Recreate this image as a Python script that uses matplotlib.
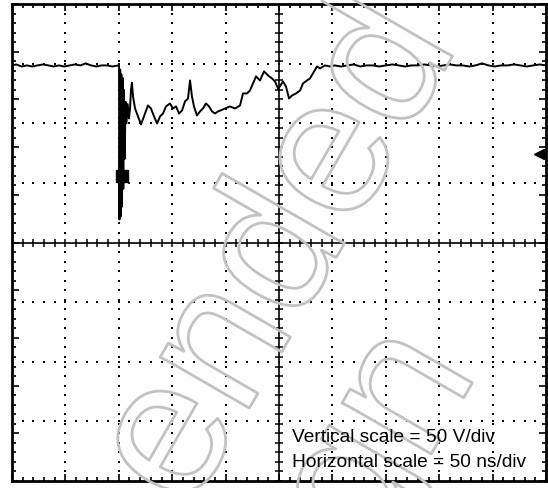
import numpy as np
import matplotlib
matplotlib.use('Agg')
import matplotlib.pyplot as plt
import matplotlib.patheffects as pe

# scope trace, time in ns, voltage in V (0 V at the centre line)
t_pre = [0, 4, 9, 14, 19, 24, 29, 34, 39, 44, 49, 54, 59, 64, 69, 74, 79, 84, 89, 94, 99.5]
v_pre = [148.5, 149.3, 147.6, 148.5, 147.6, 148.5, 149.3, 148.5, 147.6, 148.5, 147.6,
         148.5, 149.3, 148.5, 150.2, 148.5, 147.6, 148.5, 148.5, 147.6, 148.5]

t_ring = [100.2, 100.6, 101.3, 101.8, 102.4, 103.0, 103.6, 104.2, 104.8, 105.5, 106.3,
          107.2, 108.3, 109.5, 110.5, 111.4, 112.3, 113.3, 115.2, 118.0, 120.8, 124.5,
          127.3, 130.1, 133.0, 135.8, 138.6, 141.4, 144.2, 147.9, 150.7, 153.6, 156.4,
          159.2, 162.0, 164.8, 166.7, 168.5, 170.4, 173.2, 176.0, 178.8, 181.6, 184.5,
          187.3, 190.1, 192.9, 196.0, 199.4, 204.1, 208.8, 213.5, 216.3, 220.0, 222.8,
          225.6, 228.5, 232.2, 236.0, 239.7, 243.4, 246.2, 249.1, 250.9, 253.7, 256.5,
          259.4, 262.2, 265.9, 269.7, 272.5, 276.2, 279.0, 281.8, 285.6, 288.4, 293.1,
          297.7]
v_ring = [148.5, 19.3, 145.0, 22.0, 141.0, 30.0, 138.0, 45.0, 128.0, 70.0, 118.0,
          100.0, 116.0, 104.0, 112.0, 128.0, 134.0, 122.5, 112.4, 105.7, 99.0, 108.2,
          114.9, 112.4, 105.7, 99.8, 105.7, 108.2, 114.1, 116.6, 112.4, 114.1, 108.2,
          110.7, 118.3, 120.8, 135.9, 122.5, 114.1, 106.5, 109.9, 112.4, 116.6, 114.1,
          109.9, 108.2, 109.9, 111.0, 112.4, 114.1, 112.4, 114.9, 125.0, 125.0, 127.5,
          133.4, 139.3, 135.9, 143.5, 140.1, 137.6, 135.1, 129.2, 130.9, 135.1, 130.9,
          120.8, 123.3, 125.0, 127.5, 133.4, 135.9, 137.6, 141.8, 147.6, 146.0, 148.5,
          147.6]

t_post = [302, 308, 314, 320, 326, 332, 338, 344, 350, 356, 362, 368, 374, 380, 386,
          392, 398, 404, 410, 416, 422, 428, 434, 440, 446, 452, 458, 464, 470, 476,
          482, 488, 494, 500]
v_post = [148.5, 147.6, 148.5, 149.3, 147.6, 148.5, 148.5, 147.6, 148.5, 149.3, 148.5,
          147.6, 148.5, 148.5, 149.3, 148.5, 147.6, 148.5, 149.3, 148.5, 148.5, 147.6,
          148.5, 150.2, 148.5, 147.6, 148.5, 148.5, 149.3, 148.5, 147.6, 148.5, 149.3, 148.5]

marker_t, marker_v = 103.0, 55.4      # trigger point square
level_v = 74.0                        # level arrow on the right edge

labels = ['Vertical scale = 50 V/div', 'Horizontal scale = 50 ns/div']

fig = plt.figure(figsize=(5.48, 4.89), dpi=100)
ax = fig.add_axes([12 / 548, 7 / 489, 534 / 548, 477 / 489])
ax.set_xlim(0, 500)
ax.set_ylim(-200, 200)

# dotted graticule
for gx in np.arange(50, 500, 50):
    if gx == 250:
        continue
    yy = np.arange(-200, 200.1, 8)
    ax.plot(np.full_like(yy, gx), yy, 's', ms=1.5, color='black', mew=0)
for gy in np.arange(-150, 200, 50):
    if gy == 0:
        continue
    xx = np.arange(0, 500.1, 10)
    ax.plot(xx, np.full_like(xx, gy), 's', ms=1.5, color='black', mew=0)

# centre cross with ticks
ax.axhline(0, color='black', lw=1.2)
ax.axvline(250, color='black', lw=1.2)
xx = np.arange(0, 500.1, 10)
ax.plot(xx, np.zeros_like(xx), '|', ms=6, mew=1.1, color='black')
yy = np.arange(-200, 200.1, 8)
ax.plot(np.full_like(yy, 250), yy, '_', ms=6, mew=1.1, color='black')

# trace
t = t_pre + t_ring + t_post
v = v_pre + v_ring + v_post
ax.plot(t, v, color='black', lw=1.4)
ax.plot([marker_t], [marker_v], 's', ms=9, color='black')
ax.plot([492, 500], [level_v, level_v], color='black', lw=2)
ax.plot([493], [level_v], '<', ms=7, color='black')

ax.set_xticks(np.arange(0, 501, 50))
ax.set_xticks(np.arange(0, 501, 10), minor=True)
ax.set_yticks(np.arange(-200, 201, 40))
ax.set_yticks(np.arange(-200, 201, 8), minor=True)
ax.tick_params(which='both', direction='in', top=True, right=True,
               labelbottom=False, labelleft=False, width=1.2)
ax.tick_params(which='major', length=5)
ax.tick_params(which='minor', length=3)
for s in ax.spines.values():
    s.set_linewidth(2)

# watermark outline text
wm = dict(fontsize=140, family='Liberation Sans', color='none', rotation=60,
          ha='center', va='center', transform=fig.transFigure,
          path_effects=[pe.Stroke(linewidth=2, foreground='#c2c2c2')])
fig.text(280 / 548, 1 - 255 / 489, 'ended', **wm)
fig.text(370 / 548, 1 - 460 / 489, 'ign', **wm)

fig.text(292 / 548, 1 - 438 / 489, labels[0], fontsize=13.8, family='Liberation Sans',
         va='center')
fig.text(292 / 548, 1 - 463 / 489, labels[1], fontsize=13.8, family='Liberation Sans',
         va='center')

fig.savefig('out.png', dpi=100)
